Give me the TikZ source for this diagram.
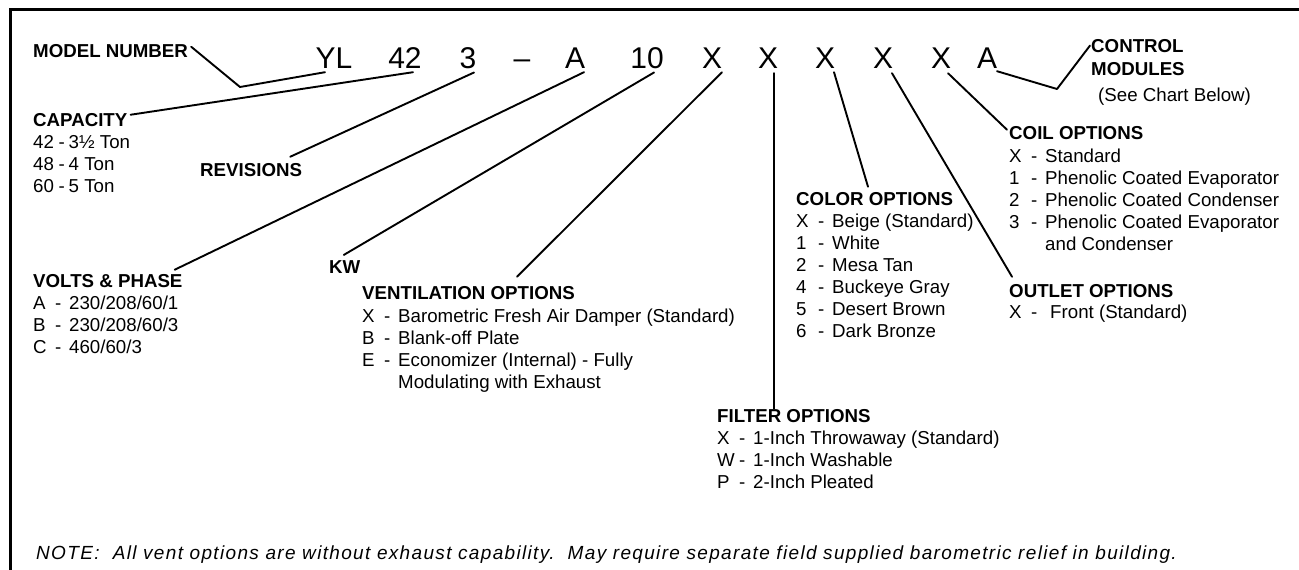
\documentclass[tikz,border=0pt]{standalone}
\usepackage{fontspec}
\setmainfont{Liberation Sans}
\usetikzlibrary{calc}
\newcommand\optkey[2]{\makebox[22pt][l]{#1}\makebox[14pt][l]{-}#2}
\newcommand\capkey[2]{\makebox[25.5pt][l]{#1}\makebox[10pt][l]{-}#2}
\tikzset{
  hd/.style={font=\bfseries\fontsize{18.7}{20}\selectfont, anchor=base west, inner sep=0pt},
  bd/.style={font=\fontsize{18.7}{20}\selectfont, anchor=base west, inner sep=0pt},
  mdl/.style={font=\fontsize{30}{32}\selectfont, anchor=base, inner sep=0pt},
  ln/.style={line width=1.9pt, line join=round, line cap=round},
  frame/.style={line width=3pt}
}
\begin{document}
\begin{tikzpicture}[x=1pt,y=-1pt]
\useasboundingbox (0,0) rectangle (1299,570);
\draw[frame] (10,575) -- (10,9) -- (1305,9);

% model number characters
\node[mdl] (m1) at (334,68) {YL};
\node[mdl] (m2) at (405,68) {42};
\node[mdl] (m3) at (468,68) {3};
\node[mdl] (m4) at (522,68) {–};
\node[mdl] (m5) at (575,68) {A};
\node[mdl] (m6) at (647,68) {10};
\node[mdl] (m7) at (712,68) {X};
\node[mdl] (m8) at (768,68) {X};
\node[mdl] (m9) at (825,68) {X};
\node[mdl] (m10) at (883,68) {X};
\node[mdl] (m11) at (941,68) {X};
\node[mdl] (m12) at (987,68) {A};

% headings and options
\node[hd] (mn) at (33,57) {MODEL NUMBER};

\node[hd] (cap) at (33,126) {CAPACITY};
\node[bd] (cap1) at (33,148) {\capkey{42}{3½ Ton}};
\node[bd] (cap2) at (33,170) {\capkey{48}{4 Ton}};
\node[bd] (cap3) at (33,192) {\capkey{60}{5 Ton}};

\node[hd] (rev) at (200,176) {REVISIONS};

\node[hd] (vp) at (33,287) {VOLTS \& PHASE};
\node[bd] (vp1) at (33,309) {\optkey{A}{230/208/60/1}};
\node[bd] (vp2) at (33,331) {\optkey{B}{230/208/60/3}};
\node[bd] (vp3) at (33,353) {\optkey{C}{460/60/3}};

\node[hd] (kw) at (329,273) {KW};

\node[hd] (ven) at (362,299) {VENTILATION OPTIONS};
\node[bd] (ven1) at (362,322) {\optkey{X}{Barometric Fresh Air Damper (Standard)}};
\node[bd] (ven2) at (362,344) {\optkey{B}{Blank-off Plate}};
\node[bd] (ven3) at (362,366) {\optkey{E}{Economizer (Internal) - Fully}};
\node[bd] (ven4) at (398,388) {Modulating with Exhaust};

\node[hd] (fil) at (717,422) {FILTER OPTIONS};
\node[bd] (fil1) at (717,444) {\optkey{X}{1-Inch Throwaway (Standard)}};
\node[bd] (fil2) at (717,466) {\optkey{W}{1-Inch Washable}};
\node[bd] (fil3) at (717,488) {\optkey{P}{2-Inch Pleated}};

\node[hd] (col) at (796,205) {COLOR OPTIONS};
\node[bd] (col1) at (796,227) {\optkey{X}{Beige (Standard)}};
\node[bd] (col2) at (796,249) {\optkey{1}{White}};
\node[bd] (col3) at (796,271) {\optkey{2}{Mesa Tan}};
\node[bd] (col4) at (796,293) {\optkey{4}{Buckeye Gray}};
\node[bd] (col5) at (796,315) {\optkey{5}{Desert Brown}};
\node[bd] (col6) at (796,337) {\optkey{6}{Dark Bronze}};

\node[hd] (coil) at (1009,139) {COIL OPTIONS};
\node[bd] (coil1) at (1009,162) {\optkey{X}{Standard}};
\node[bd] (coil2) at (1009,184) {\optkey{1}{Phenolic Coated Evaporator}};
\node[bd] (coil3) at (1009,206) {\optkey{2}{Phenolic Coated Condenser}};
\node[bd] (coil4) at (1009,228) {\optkey{3}{Phenolic Coated Evaporator}};
\node[bd] (coil5) at (1045,250) {and Condenser};

\node[hd] (out) at (1009,297) {OUTLET OPTIONS};
\node[bd] (out1) at (1009,318) {\optkey{X}{\hspace{5pt}Front (Standard)}};

\node[hd] (ctl) at (1091,52) {CONTROL};
\node[hd] (ctl2) at (1091,75) {MODULES};
\node[bd] (ctl3) at (1098,101) {(See Chart Below)};

\node[bd, font=\itshape\fontsize{19}{20}\selectfont\addfontfeature{LetterSpace=7}] (note) at (36,559)
  {NOTE:\ \ All vent options are without exhaust capability.\ \ May require separate field supplied barometric relief in building.};

% connectors
\coordinate (e1) at (240,87);
\coordinate (e2) at (1057,89);
\draw[ln] ($(m1.south)+(-9,4)$) -- (e1) -- ($(mn.north east)+(3,3)$);
\draw[ln] ($(m2.south)+(8,4)$) -- ($(cap.north east)+(3,2)$);
\draw[ln] ($(m3.south)+(6,4)$) -- ($(rev.north east)+(-12,-6)$);
\draw[ln] ($(m5.south)+(9,4)$) -- ($(vp.north east)+(-8,-4)$);
\draw[ln] ($(m6.south)+(7,4)$) -- ($(kw.north)+(-1,-5)$);
\draw[ln] ($(m7.south)+(10,4)$) -- ($(ven.north west)+(155,-9)$);
\coordinate (fx) at ($(m8.south)+(6,5)$);
\draw[ln] (fx) -- (fx |- fil.north) -- ++(0,-8);
\draw[ln] ($(m9.south)+(9,4)$) -- ($(col.north west)+(72,-5)$);
\draw[ln] ($(m10.south)+(9,5)$) -- ($(out.north west)+(3,-7)$);
\draw[ln] ($(m11.south)+(7,5)$) -- ($(coil.north west)+(-2,4)$);
\draw[ln] ($(m12.south)+(10,3)$) -- (e2) -- ($(ctl.west)+(-1,0)$);
\end{tikzpicture}
\end{document}
